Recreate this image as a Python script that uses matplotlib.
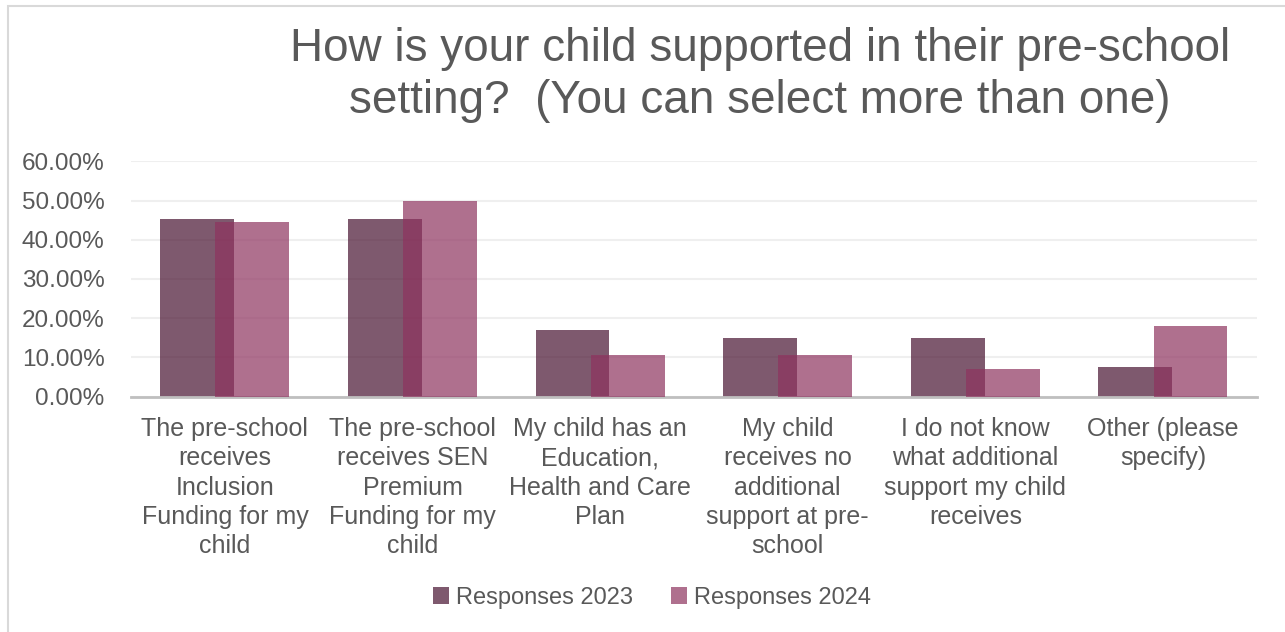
import numpy as np
import matplotlib.pyplot as plt
from matplotlib.patches import Rectangle
from matplotlib.ticker import FuncFormatter

plt.rcParams["font.family"] = ["Liberation Sans", "DejaVu Sans"]

categories = [
    "The pre-school\nreceives\nInclusion\nFunding for my\nchild",
    "The pre-school\nreceives SEN\nPremium\nFunding for my\nchild",
    "My child has an\nEducation,\nHealth and Care\nPlan",
    "My child\nreceives no\nadditional\nsupport at pre-\nschool",
    "I do not know\nwhat additional\nsupport my child\nreceives",
    "Other (please\nspecify)",
]
responses_2023 = [0.452, 0.452, 0.170, 0.150, 0.150, 0.075]
responses_2024 = [0.445, 0.500, 0.106, 0.106, 0.070, 0.179]
series_names = ["Responses 2023", "Responses 2024"]

text_grey = "#595959"
color_2023 = "#481331"
color_2024 = "#8e335f"

fig = plt.figure(figsize=(12.85, 6.32), dpi=100)
ax = fig.add_axes([0.102, 0.3726, 0.876, 0.3719])

# chart frame
fig.patches.append(Rectangle((8 / 1285, -0.05), 1.1, 1 - 6 / 632 + 0.05,
                             transform=fig.transFigure, fill=False,
                             edgecolor="#d9d9d9", linewidth=1.5))

x = np.arange(len(categories))
width = 0.394
offset = 0.147
ax.bar(x - offset, responses_2023, width, color=color_2023, alpha=0.7,
       label=series_names[0], zorder=2)
ax.bar(x + offset, responses_2024, width, color=color_2024, alpha=0.7,
       label=series_names[1], zorder=3)

ax.set_xlim(-0.5, len(categories) - 0.5)
ax.set_ylim(0, 0.6)
ax.set_yticks(np.arange(0, 0.61, 0.1))
ax.yaxis.set_major_formatter(FuncFormatter(lambda v, _: f"{v * 100:.2f}%"))
ax.set_xticks(x)
ax.set_xticklabels(categories, fontsize=18, color=text_grey, linespacing=1.27)
ax.tick_params(axis="y", labelsize=17.5, labelcolor=text_grey, length=0, pad=19)
ax.tick_params(axis="x", length=0, pad=15)
ax.grid(axis="y", color="#efefef", linewidth=1.5, zorder=0)
ax.set_axisbelow(True)
for side in ("top", "right", "left"):
    ax.spines[side].set_visible(False)
ax.spines["bottom"].set_color("#bfbfbf")
ax.spines["bottom"].set_linewidth(2)

fig.text(760 / 1285, 1 - 75 / 632,
         "How is your child supported in their pre-school\nsetting?  (You can select more than one)",
         ha="center", va="center", fontsize=33, color=text_grey, linespacing=1.23)

fig.legend(loc="center", bbox_to_anchor=(652 / 1285, 1 - 598 / 632), ncol=2,
           frameon=False, fontsize=17, labelcolor=text_grey,
           handlelength=0.7, handleheight=0.7, handletextpad=0.3,
           columnspacing=1.6)

fig.savefig("out.png", dpi=100, facecolor="white")
